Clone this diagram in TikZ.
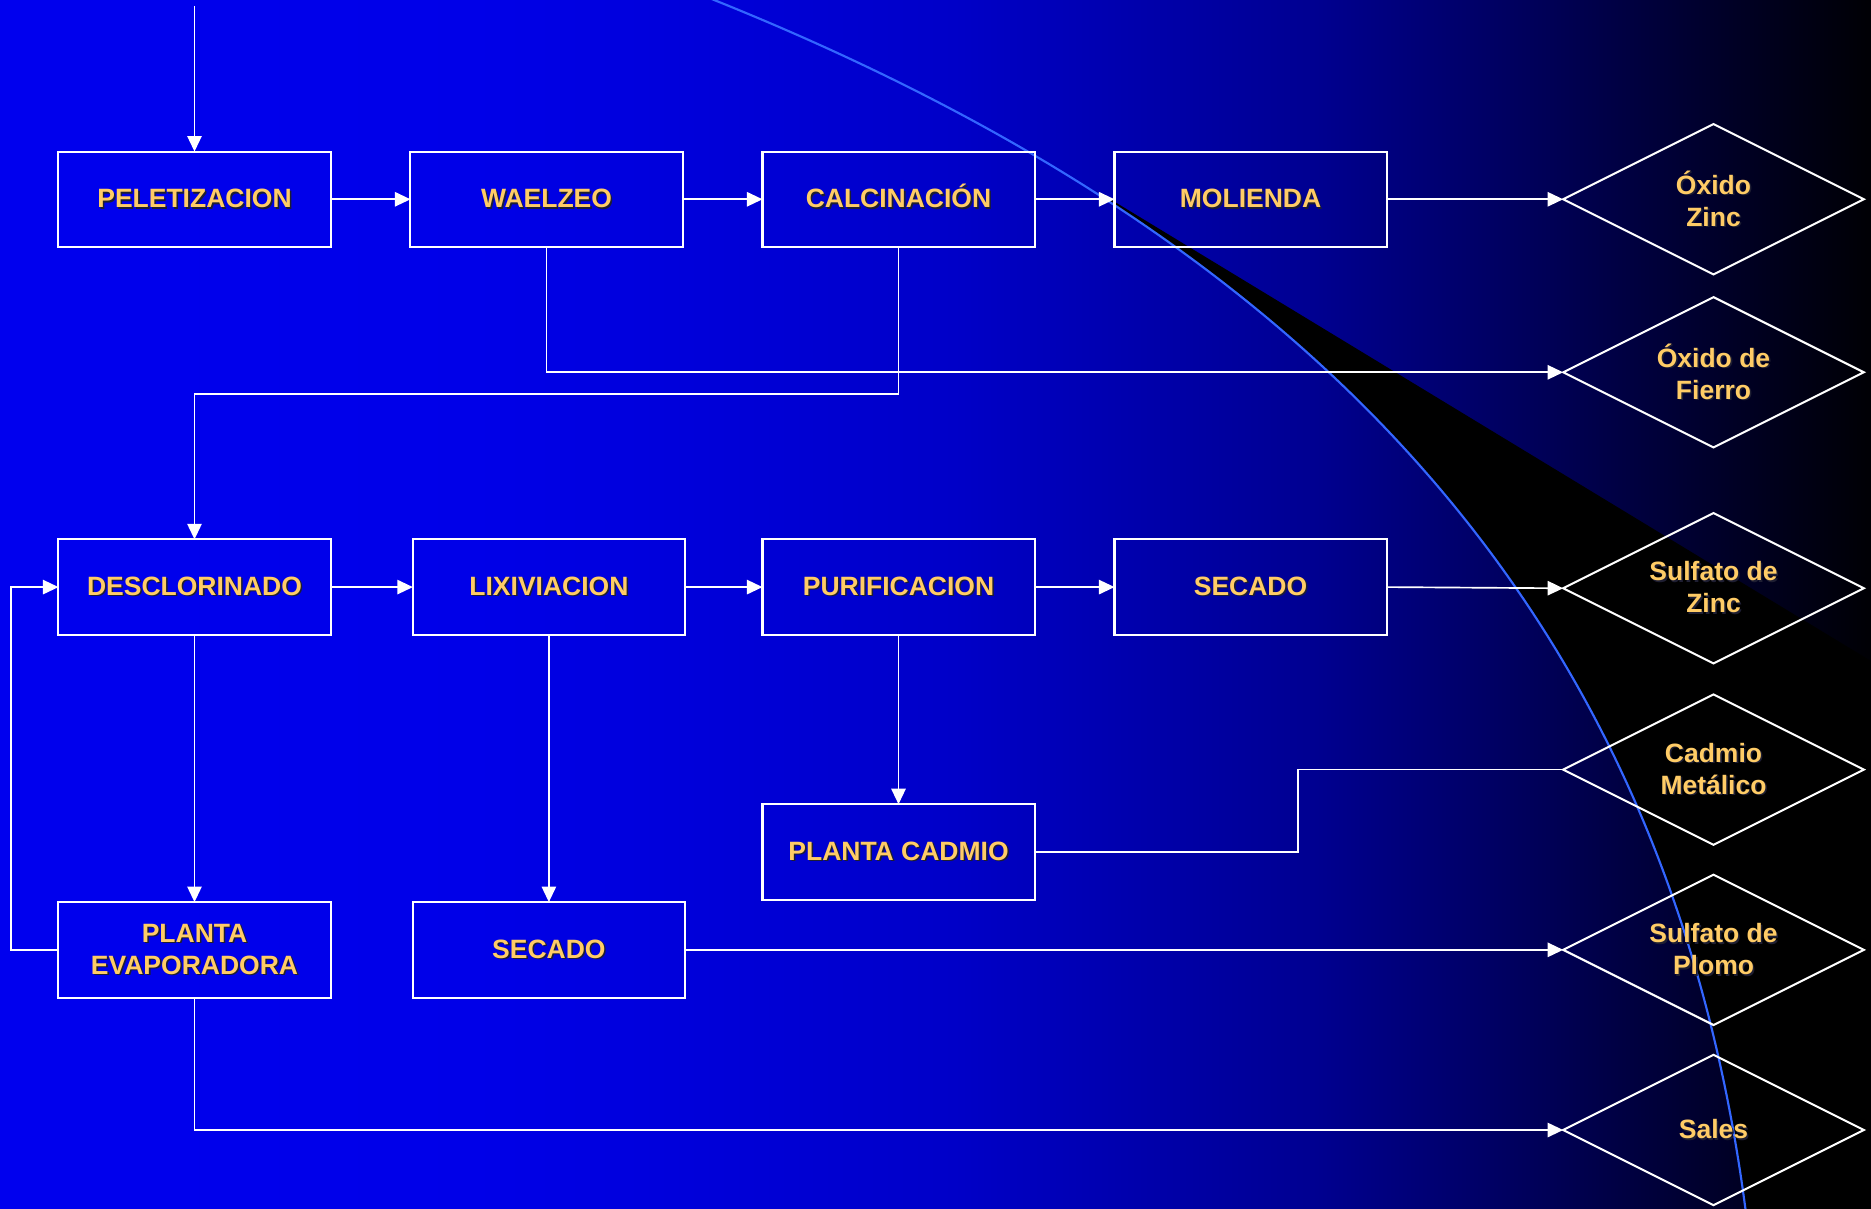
\documentclass[tikz,border=0pt]{standalone}
\usepackage{fontspec}
\setmainfont{Liberation Sans}
\usetikzlibrary{shapes.geometric,arrows.meta,calc}

\definecolor{txt}{RGB}{255,204,102}
\definecolor{shd}{RGB}{30,30,50}
\definecolor{arcblue}{RGB}{51,102,255}
\definecolor{bgA}{RGB}{0,0,238}
\definecolor{bgB}{RGB}{0,0,232}
\definecolor{bgC}{RGB}{0,0,200}
\definecolor{bgD}{RGB}{0,0,145}
\definecolor{bgE}{RGB}{0,0,85}
\definecolor{bgF}{RGB}{0,0,38}
\definecolor{bgG}{RGB}{0,0,4}

\pgfdeclarehorizontalshading{bggrad}{100bp}{color(0bp)=(bgA); color(25bp)=(bgA); color(37.76bp)=(bgB); color(50.51bp)=(bgC); color(60.08bp)=(bgD); color(66.45bp)=(bgE); color(71.24bp)=(bgF); color(75bp)=(bgG); color(100bp)=(bgG)}

\newcommand\fs{\fontsize{22.2}{26.8}\selectfont\bfseries}
\newcommand\sh[1]{\rlap{\kern1.3pt\raisebox{-1.3pt}{\textcolor{shd}{#1}}}#1}

\tikzset{
  proc/.style={draw=white, line width=1.7pt, minimum width=228pt, minimum height=80pt,
    inner sep=0pt, outer sep=0pt, text=txt, font=\fs, align=center},
  prod/.style={diamond, aspect=2, draw=white, line width=1.7pt, minimum width=252pt, minimum height=126pt,
    inner sep=0pt, outer sep=0pt, text=txt, font=\fs, align=center},
  flow/.style={draw=white, line width=1.4pt},
  arr/.style={flow, -{Triangle[length=13pt,width=12pt]}},
}

\begin{document}
\begin{tikzpicture}[x=1pt,y=-1pt]
\useasboundingbox (0,0) rectangle (1568,1013);
\clip (0,0) rectangle (1568,1013);
\shade[shading=bggrad] (0,0) rectangle (1568,1013);
% black wedge: right of the arc, below the straight edge
\begin{scope}
  \clip (929,166) -- (1568,554) -- (1568,1013) -- (929,1013) -- cycle;
  \fill[black] (596,-1) .. controls (1123,209.8) and (1400.4,534.9) .. (1463,1015)
    -- (1575,1020) -- (1575,-5) -- cycle;
\end{scope}
% blue arc
\draw[arcblue, line width=1.8pt] (596,-1) .. controls (1123,209.8) and (1400.4,534.9) .. (1463,1015);

% process boxes
\node[proc] (pel) at (163,167) {\sh{PELETIZACION}};
\node[proc] (wae) at (458,167) {\sh{WAELZEO}};
\node[proc] (cal) at (753,167) {\sh{CALCINACI\smash{Ó}N}};
\node[proc] (mol) at (1048,167) {\sh{MOLIENDA}};
\node[proc] (des) at (163,492) {\sh{DESCLORINADO}};
\node[proc] (lix) at (460,492) {\sh{LIXIVIACION}};
\node[proc] (pur) at (753,492) {\sh{PURIFICACION}};
\node[proc] (seca) at (1048,492) {\sh{SECADO}};
\node[proc] (pcd) at (753,714) {\sh{PLANTA CADMIO}};
\node[proc] (pev) at (163,796) {\sh{PLANTA}\\\sh{EVAPORADORA}};
\node[proc] (secb) at (460,796) {\sh{SECADO}};

% products
\node[prod] (oxz) at (1436,167) {\sh{Óxido}\\\sh{Zinc}};
\node[prod] (oxf) at (1436,312) {\sh{Óxido de}\\\sh{Fierro}};
\node[prod] (sz) at (1436,493) {\sh{Sulfato de}\\\sh{Zinc}};
\node[prod] (cad) at (1436,645) {\sh{Cadmio}\\\sh{Metálico}};
\node[prod] (sp) at (1436,796) {\sh{Sulfato de}\\\sh{Plomo}};
\node[prod] (sal) at (1436,947) {\sh{Sales}};

% connectors
\coordinate (start) at (163,5);
\coordinate (j1) at (753,330);
\coordinate (j2) at (1088,714);
\coordinate (j3) at (9,796);

\draw[arr] (start) -- (pel.north);
\draw[arr] (pel) -- (wae);
\draw[arr] (wae) -- (cal);
\draw[arr] (cal) -- (mol);
\draw[arr] (mol.east) -- (oxz.west);
\draw[arr] (wae.south) |- (oxf.west);
\draw[arr] (cal.south) -- (j1) -| (des.north);
\draw[arr] (des) -- (lix);
\draw[arr] (lix) -- (pur);
\draw[arr] (pur) -- (seca);
\draw[arr] (seca.east) -- (sz.west);
\draw[arr] (pur) -- (pcd);
\draw[flow] (pcd.east) -- (j2) |- (cad.west);
\draw[arr] (des) -- (pev);
\draw[arr] (lix) -- (secb);
\draw[arr] (pev.west) -- (j3) |- (des.west);
\draw[arr] (secb.east) -- (sp.west);
\draw[arr] (pev.south) |- (sal.west);
\end{tikzpicture}
\end{document}
